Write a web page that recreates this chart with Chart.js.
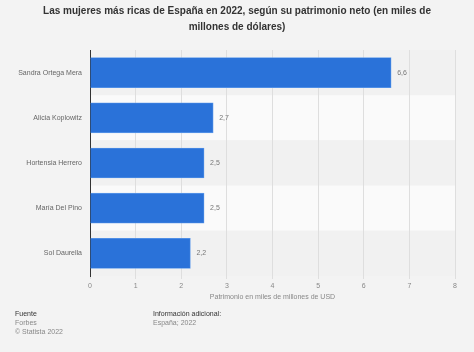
<!DOCTYPE html>
<html><head><meta charset="utf-8">
<script src="https://cdn.jsdelivr.net/npm/chart.js@4"></script>
<style>
html,body{margin:0;padding:0;background:#f3f3f3;font-family:"Liberation Sans",Arial,sans-serif;}
#wrap{position:relative;width:474px;height:352px;overflow:hidden;}
canvas{position:absolute;left:0;top:0;}
#title{position:absolute;left:0;top:3px;width:474px;text-align:center;font-weight:bold;font-size:10px;line-height:16px;color:#333;}
.ft{position:absolute;font-size:7px;line-height:9px;color:#888;}
.ft b{color:#333;font-weight:normal;}
</style></head><body>
<div id="wrap">
<canvas id="c" width="474" height="352"></canvas>
<div id="title">Las mujeres más ricas de España en 2022, según su patrimonio neto (en miles de<br>millones de dólares)</div>
<div class="ft" style="left:15px;top:309px;"><b>Fuente</b><br>Forbes<br>© Statista 2022</div>
<div class="ft" style="left:153px;top:309px;"><b>Información adicional:</b><br>España; 2022</div>
</div>
<script>
const categories = ["Sandra Ortega Mera","Alicia Koplowitz","Hortensia Herrero","María Del Pino","Sol Daurella"];
const values = [6.6, 2.7, 2.5, 2.5, 2.2];
const xTicks = [0,1,2,3,4,5,6,7,8];
const axisTitle = "Patrimonio en miles de millones de USD";

const bands = {
  id:'bands',
  beforeDraw(chart){
    const {ctx, chartArea:a, scales:{y}} = chart;
    ctx.save();
    categories.forEach((c,i)=>{
      const t = y.getPixelForValue(i-0.5), b = y.getPixelForValue(i+0.5);
      ctx.fillStyle = i%2===0 ? '#f1f1f1' : '#fafafa';
      ctx.fillRect(a.left, t, a.right-a.left, b-t);
    });
    ctx.restore();
  }
};
const labels = {
  id:'labels',
  afterDatasetsDraw(chart){
    const {ctx} = chart;
    const meta = chart.getDatasetMeta(0);
    ctx.save();
    ctx.font = '7px "Liberation Sans", Arial, sans-serif';
    ctx.fillStyle = '#777';
    ctx.textBaseline = 'middle';
    meta.data.forEach((el,i)=>{
      ctx.fillText(values[i].toFixed(1).replace('.',','), el.x+6, el.y);
    });
    ctx.restore();
  }
};

new Chart(document.getElementById('c'), {
  type:'bar',
  data:{labels:categories, datasets:[{data:values, backgroundColor:'#2a72d9', borderColor:'#5b98ea', borderWidth:0.8, barThickness:30}]},
  options:{
    indexAxis:'y', responsive:false, animation:false,
    layout:{padding:{left:0,right:19,top:50,bottom:46}},
    plugins:{legend:{display:false}, tooltip:{enabled:false}},
    scales:{
      x:{min:0,max:8,
        afterBuildTicks(s){s.ticks = xTicks.map(v=>({value:v}));},
        afterFit(s){s.height=30;},
        grid:{color:'#dedede', drawTicks:true, tickLength:3, tickColor:'#dedede'},
        border:{display:false},
        ticks:{color:'#888', font:{size:7, family:'"Liberation Sans", Arial, sans-serif'}, padding:3},
        title:{display:true, text:axisTitle, color:'#888', font:{size:7, family:'"Liberation Sans", Arial, sans-serif'}, padding:{top:0,bottom:5}}
      },
      y:{
        afterFit(s){s.width=90;},
        grid:{display:false, drawTicks:false},
        border:{display:true,color:'#333',width:1},
        ticks:{color:'#666', padding:8, font:{size:7, family:'"Liberation Sans", Arial, sans-serif'}}
      }
    }
  },
  plugins:[bands, labels]
});
</script>
</body></html>
